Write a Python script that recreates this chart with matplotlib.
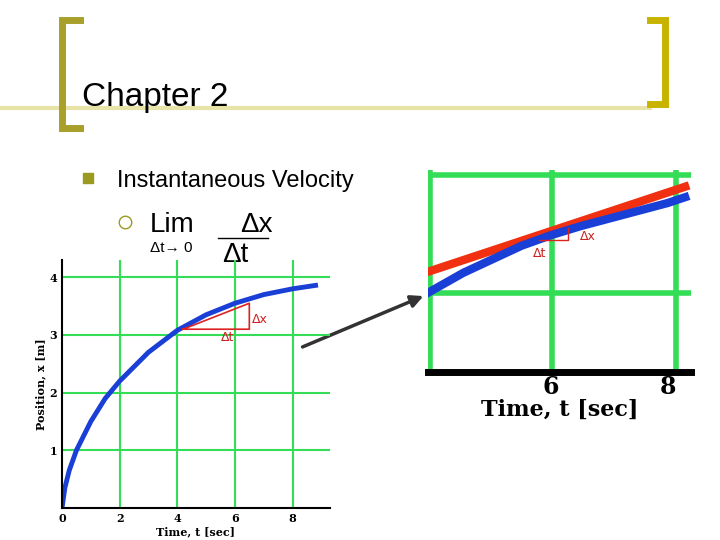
import matplotlib
matplotlib.use("Agg")
import matplotlib.pyplot as plt

# left chart data
t_left = [0, 0.1, 0.25, 0.5, 1, 1.5, 2, 3, 4, 5, 6, 7, 8, 8.8]
x_left = [0, 0.35, 0.65, 1.0, 1.5, 1.9, 2.2, 2.7, 3.08, 3.35, 3.55, 3.7, 3.8, 3.86]
xticks_left = [0, 2, 4, 6, 8]
yticks_left = [1, 2, 3, 4]
# zoomed chart data
t_zoom = [3.9, 4.5, 5.0, 5.5, 6.0, 6.5, 7.0, 7.5, 8.0, 8.3]
x_zoom = [3.484, 3.535, 3.57, 3.605, 3.632, 3.655, 3.675, 3.695, 3.715, 3.73]
t_tan = [3.9, 8.3]
x_tan = [3.538, 3.757]
xticks_zoom = [6, 8]

fig = plt.figure(figsize=(7.2, 5.4), dpi=100)
ov = fig.add_axes([0, 0, 1, 1])
ov.set_xlim(0, 720); ov.set_ylim(540, 0); ov.axis("off")
gold = "#c8b400"
ov.plot([0, 650], [108, 108], color="#e8e4a8", lw=3)
ov.plot([80, 62, 62, 80], [20, 20, 128, 128], color="#a8a02a", lw=5, solid_joinstyle="miter")
ov.plot([650, 665, 665, 650], [20, 20, 104, 104], color=gold, lw=5, solid_joinstyle="miter")
ov.text(82, 106, "Chapter 2", fontsize=24, family="Liberation Sans", va="baseline")
ov.plot([88], [178], marker="s", color="#9a9a20", ms=7)
ov.text(117, 187, "Instantaneous Velocity", fontsize=17, family="Liberation Sans", va="baseline")
ov.plot([125], [222], marker="o", mfc="none", mec="#9a9a20", ms=9)
ov.text(150, 232, "Lim", fontsize=20, family="Liberation Sans", va="baseline")
ov.text(240, 232, "Δx", fontsize=20, family="Liberation Sans", va="baseline")
ov.plot([218, 268], [238, 238], color="black", lw=1)
ov.text(150, 252, "Δt→ 0", fontsize=11, family="Liberation Sans", va="baseline")
ov.text(222, 262, "Δt", fontsize=20, family="Liberation Sans", va="baseline")
ov.annotate("", xy=(426, 295), xytext=(300, 348),
            arrowprops=dict(arrowstyle="-|>", color="#333333", lw=2.5, mutation_scale=18))

# left chart
axl = fig.add_axes([62/720, 32/540, 268/720, 248/540])
axl.set_xlim(0, 9.3); axl.set_ylim(0, 4.3)
for xv in xticks_left[1:]:
    axl.axvline(xv, color="#33dd55", lw=1.5)
for yv in yticks_left:
    axl.axhline(yv, color="#33dd55", lw=1.5)
axl.plot(t_left, x_left, color="#1a3fd6", lw=3.5)
axl.plot([4.2, 6.5, 6.5, 4.2], [3.1, 3.55, 3.1, 3.1], color="#dd2222", lw=1.2)
axl.text(6.6, 3.2, "Δx", color="#cc2222", fontsize=9)
axl.text(5.5, 2.9, "Δt", color="#cc2222", fontsize=9)
for s in ["top", "right"]:
    axl.spines[s].set_visible(False)
axl.spines["left"].set_linewidth(1.5); axl.spines["bottom"].set_linewidth(1.5)
axl.set_xticks(xticks_left); axl.set_yticks(yticks_left)
axl.tick_params(labelsize=8, length=0)
for lab in axl.get_xticklabels() + axl.get_yticklabels():
    lab.set_fontweight("bold"); lab.set_family("DejaVu Serif")
axl.set_xlabel("Time, t [sec]", fontsize=8, fontweight="bold", family="DejaVu Serif", labelpad=2)
axl.set_ylabel("Position, x [m]", fontsize=8, fontweight="bold", family="DejaVu Serif", labelpad=2)
axl.set_facecolor("none")

# zoomed chart
axr = fig.add_axes([428/720, (540-372)/540, 263/720, 202/540])
axr.set_xlim(3.9, 8.4); axr.set_ylim(3.28, 3.80)
for xv in [3.93, 6.03, 8.15]:
    axr.axvline(xv, color="#33dd55", lw=4)
for yv in [3.484, 3.788]:
    axr.axhline(yv, color="#33dd55", lw=4)
axr.plot(t_tan, x_tan, color="#f03010", lw=6)
axr.plot(t_zoom, x_zoom, color="#1a3fd6", lw=6)
axr.plot([5.8, 6.3, 6.3], [3.62, 3.62, 3.65], color="#dd2222", lw=1)
axr.text(5.7, 3.575, "Δt", color="#cc2222", fontsize=9)
axr.text(6.5, 3.62, "Δx", color="#cc2222", fontsize=9)
for s in ["top", "right", "left"]:
    axr.spines[s].set_visible(False)
axr.spines["bottom"].set_linewidth(5)
axr.set_yticks([]); axr.set_xticks(xticks_zoom)
axr.tick_params(labelsize=17, length=0, pad=2)
for lab in axr.get_xticklabels():
    lab.set_fontweight("bold"); lab.set_family("DejaVu Serif")
axr.set_xlabel("Time, t [sec]", fontsize=16, fontweight="bold", family="DejaVu Serif", labelpad=0)
axr.set_facecolor("none")

fig.savefig("out.png", dpi=100)
